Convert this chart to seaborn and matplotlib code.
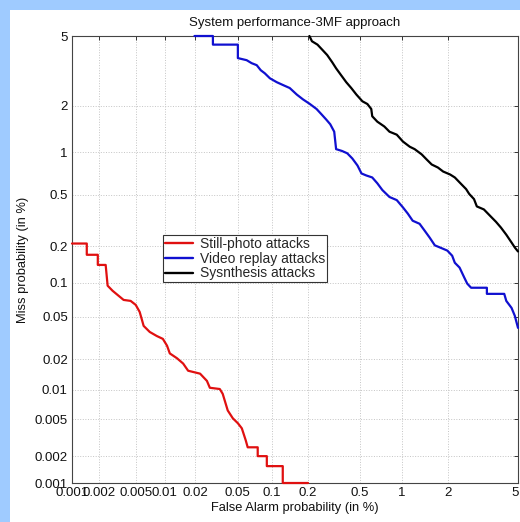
import numpy as np
import pandas as pd
import matplotlib
matplotlib.use("Agg")
import matplotlib.pyplot as plt
import matplotlib.transforms as mtransforms
import seaborn as sns
from matplotlib.lines import Line2D
from matplotlib.patches import Rectangle
from matplotlib.ticker import FixedLocator, FixedFormatter, NullLocator
from statistics import NormalDist

# ---------------- data (percent) ----------------
tick_values = [0.001, 0.002, 0.005, 0.01, 0.02, 0.05, 0.1, 0.2, 0.5, 1, 2, 5]
tick_labels = ["0.001", "0.002", "0.005", "0.01", "0.02", "0.05", "0.1", "0.2", "0.5", "1", "2", "5"]

series_names = ["Still-photo attacks", "Video replay attacks", "Sysnthesis attacks"]
series_colors = ["#e01010", "#1010d0", "#000000"]

still_fa = [0.001, 0.00147, 0.00147, 0.00195, 0.00195, 0.00238, 0.0025, 0.00283, 0.0032, 0.00372,
            0.00442, 0.005, 0.0055, 0.00577, 0.00605, 0.007, 0.00826, 0.00953, 0.0105, 0.0112,
            0.0132, 0.0152, 0.017, 0.0222, 0.0258, 0.0275, 0.0341, 0.0363, 0.0404, 0.045,
            0.05, 0.0543, 0.0589, 0.0613, 0.0752, 0.0752, 0.0903, 0.0903, 0.1236, 0.1236, 0.2]
still_miss = [0.211, 0.211, 0.171, 0.171, 0.141, 0.141, 0.0941, 0.085, 0.0783, 0.0707,
              0.0693, 0.0639, 0.0553, 0.0479, 0.0413, 0.0363, 0.0333, 0.0313, 0.027, 0.0228,
              0.0205, 0.0182, 0.0155, 0.0145, 0.0123, 0.0105, 0.0102, 0.00912, 0.00616, 0.0051,
              0.00453, 0.004, 0.00297, 0.0025, 0.0025, 0.002, 0.002, 0.00155, 0.00155, 0.001, 0.001]

video_fa = [0.0196, 0.0294, 0.0294, 0.05, 0.05, 0.06, 0.0665, 0.0737, 0.0799, 0.0867,
            0.096, 0.110, 0.1236, 0.1414, 0.1618, 0.1816, 0.207, 0.234, 0.256, 0.279,
            0.30, 0.322, 0.333, 0.370, 0.405, 0.442, 0.483, 0.517, 0.561, 0.619,
            0.673, 0.731, 0.82, 0.921, 1.015, 1.094, 1.18, 1.311, 1.414, 1.525,
            1.644, 1.773, 1.97, 2.11, 2.19, 2.34, 2.5, 2.6, 2.74, 3.38,
            3.38, 4.22, 4.33, 4.62, 4.81, 5.0]
video_miss = [5.0, 5.0, 4.5, 4.5, 3.8, 3.7, 3.56, 3.47, 3.25, 3.12,
              2.92, 2.77, 2.67, 2.56, 2.34, 2.19, 2.05, 1.91, 1.77, 1.64,
              1.53, 1.37, 1.05, 1.02, 0.984, 0.907, 0.811, 0.713, 0.69, 0.668,
              0.607, 0.542, 0.482, 0.457, 0.403, 0.362, 0.319, 0.302, 0.267, 0.235,
              0.204, 0.196, 0.185, 0.168, 0.147, 0.134, 0.110, 0.098, 0.0903, 0.0903,
              0.0799, 0.0799, 0.0693, 0.0601, 0.051, 0.0396]

synth_fa = [0.205, 0.207, 0.215, 0.238, 0.26, 0.284, 0.311, 0.333, 0.364, 0.398,
            0.434, 0.474, 0.525, 0.571, 0.609, 0.619, 0.673, 0.755, 0.82, 0.921,
            1.015, 1.128, 1.216, 1.352, 1.457, 1.571, 1.72, 1.855, 2.05, 2.19,
            2.4, 2.56, 2.67, 2.85, 2.96, 3.25, 3.56, 3.8, 4.05, 4.33,
            4.62, 4.81, 5.0]
synth_miss = [5.0, 4.94, 4.69, 4.5, 4.22, 3.95, 3.6, 3.33, 3.04, 2.77,
              2.56, 2.34, 2.13, 2.05, 1.91, 1.72, 1.59, 1.48, 1.37, 1.31,
              1.18, 1.09, 1.05, 0.968, 0.893, 0.824, 0.785, 0.736, 0.701, 0.668,
              0.597, 0.551, 0.508, 0.465, 0.41, 0.389, 0.343, 0.313, 0.282, 0.248,
              0.215, 0.196, 0.182]

frames = []
for name, fa, miss in zip(series_names, [still_fa, video_fa, synth_fa], [still_miss, video_miss, synth_miss]):
    frames.append(pd.DataFrame({"fa": fa, "miss": miss, "series": name}))
df = pd.concat(frames, ignore_index=True)

# ---------------- probit scale ----------------
_nd = NormalDist()
_ppf = np.vectorize(lambda p: _nd.inv_cdf(p), otypes=[float])
_cdf = np.vectorize(lambda z: _nd.cdf(z), otypes=[float])


def fwd(v):
    v = np.asarray(v, dtype=float)
    p = np.clip(v / 100.0, 1e-12, 1 - 1e-12)
    return _ppf(p)


def inv(z):
    z = np.asarray(z, dtype=float)
    return _cdf(z) * 100.0


# ---------------- figure ----------------
sns.set_style("white")
plt.rcParams["font.family"] = ["Liberation Sans", "DejaVu Sans"]

W, H = 520, 522
fig = plt.figure(figsize=(W / 100, H / 100), dpi=100)
fig.patch.set_facecolor("#9fcbff")
fig.patches.append(Rectangle((10 / W, 0), 1 - 10 / W, (H - 10) / H, transform=fig.transFigure,
                             facecolor="white", edgecolor="none", zorder=-10))

ax = fig.add_axes([72 / W, (H - 483) / H, 446 / W, 447 / H])
ax.set_facecolor("white")

sns.lineplot(data=df, x="fa", y="miss", hue="series", hue_order=series_names,
             palette=series_colors, sort=False, estimator=None, units="series",
             linewidth=1.6, legend=False, ax=ax, clip_on=False, zorder=3)

ax.set_xscale("function", functions=(fwd, inv))
ax.set_yscale("function", functions=(fwd, inv))
ax.set_xlim(0.001, 5)
ax.set_ylim(0.001, 5)

for axis in (ax.xaxis, ax.yaxis):
    axis.set_major_locator(FixedLocator(tick_values))
    axis.set_major_formatter(FixedFormatter(tick_labels))
    axis.set_minor_locator(NullLocator())

ax.tick_params(axis="both", which="major", direction="in", length=3, width=0.7,
               top=True, right=True, labelsize=9.5, colors="#333333", labelcolor="#111111", pad=3)
ax.grid(True, linestyle=":", color="#c4c4c4", linewidth=0.7)
for s in ax.spines.values():
    s.set_color("#444444")
    s.set_linewidth(0.8)

ax.set_xlabel("False Alarm probability (in %)", fontsize=9.3, color="#111111", labelpad=2)
ax.set_ylabel("Miss probability (in %)", fontsize=9.3, color="#111111", labelpad=4)
ax.set_title("System performance-3MF approach", fontsize=9.5, color="#111111", pad=7)

# keep the last x tick label inside the picture
fig.canvas.draw()
last = ax.get_xticklabels()[-1]
last.set_transform(last.get_transform() + mtransforms.ScaledTranslation(-3 / 100, 0, fig.dpi_scale_trans))

handles = [Line2D([], [], color=c, linewidth=1.7) for c in series_colors]
leg = ax.legend(handles, series_names, loc="upper left", bbox_to_anchor=(0.204, 0.555),
                borderaxespad=0, fontsize=10, frameon=True, fancybox=False, framealpha=1,
                edgecolor="#333333", labelspacing=0.05, handlelength=2.0, handletextpad=0.5,
                borderpad=0.15)
leg.get_frame().set_linewidth(0.8)

fig.savefig("out.png", dpi=100, facecolor=fig.get_facecolor())
